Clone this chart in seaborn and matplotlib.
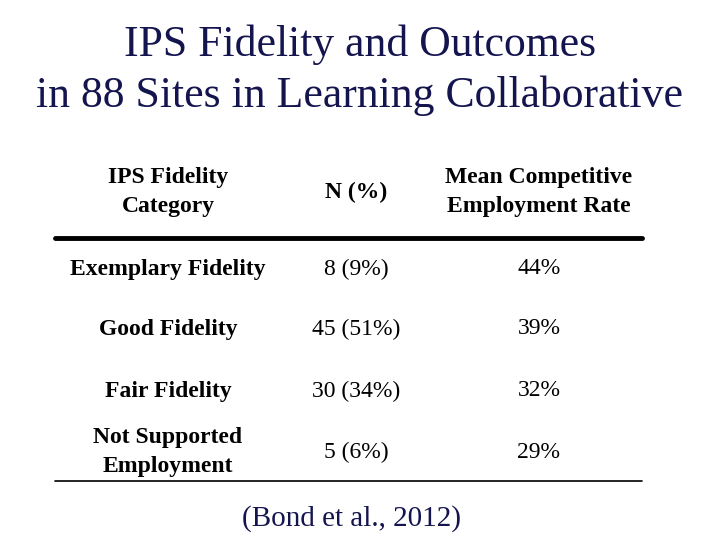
import matplotlib
matplotlib.use("Agg")
import matplotlib.pyplot as plt
import seaborn as sns

sns.set_theme(style="white")
plt.rcParams['font.family'] = ['Liberation Serif', 'DejaVu Serif']
plt.rcParams['text.color'] = 'black'

title_lines = ["IPS Fidelity and Outcomes", "in 88 Sites in Learning Collaborative"]
headers = ["IPS Fidelity\nCategory", "N (%)", "Mean Competitive\nEmployment Rate"]
categories = ["Exemplary Fidelity", "Good Fidelity", "Fair Fidelity", "Not Supported\nEmployment"]
n_values = ["8 (9%)", "45 (51%)", "30 (34%)", "5 (6%)"]
rates = ["44%", "39%", "32%", "29%"]
citation = "(Bond et al., 2012)"

fig = plt.figure(figsize=(7.2, 5.4), dpi=100)
ax = fig.add_axes([0, 0, 1, 1])
ax.set_xlim(0, 720)
ax.set_ylim(540, 0)
ax.axis("off")

navy = "#14144f"
ax.text(360, 45, title_lines[0], ha="center", va="center", fontsize=31.5, color=navy)
ax.text(360, 96, title_lines[1], ha="center", va="center", fontsize=31.5, color=navy)

cols = [168, 356, 539]
fs = 17
for x, h in zip(cols, headers):
    ax.text(x, 192, h, ha="center", va="center", fontsize=fs, fontweight="bold",
            linespacing=1.45, color="black")
ax.plot([55, 642], [238, 238], color="black", lw=3.5)
rows_y = [269, 329, 391, 452]
for y, c, n, r in zip(rows_y, categories, n_values, rates):
    ax.text(cols[0], y, c, ha="center", va="center", fontsize=fs, fontweight="bold",
            linespacing=1.45, color="black")
    ax.text(cols[1], y, n, ha="center", va="center", fontsize=fs, color="black")
    ax.text(cols[2], y, r, ha="center", va="center", fontsize=fs, color="black")
ax.plot([55, 642], [481, 481], color="black", lw=1.2)
ax.text(352, 519, citation, ha="center", va="center", fontsize=21, color=navy)

fig.savefig("out.png", dpi=100)
